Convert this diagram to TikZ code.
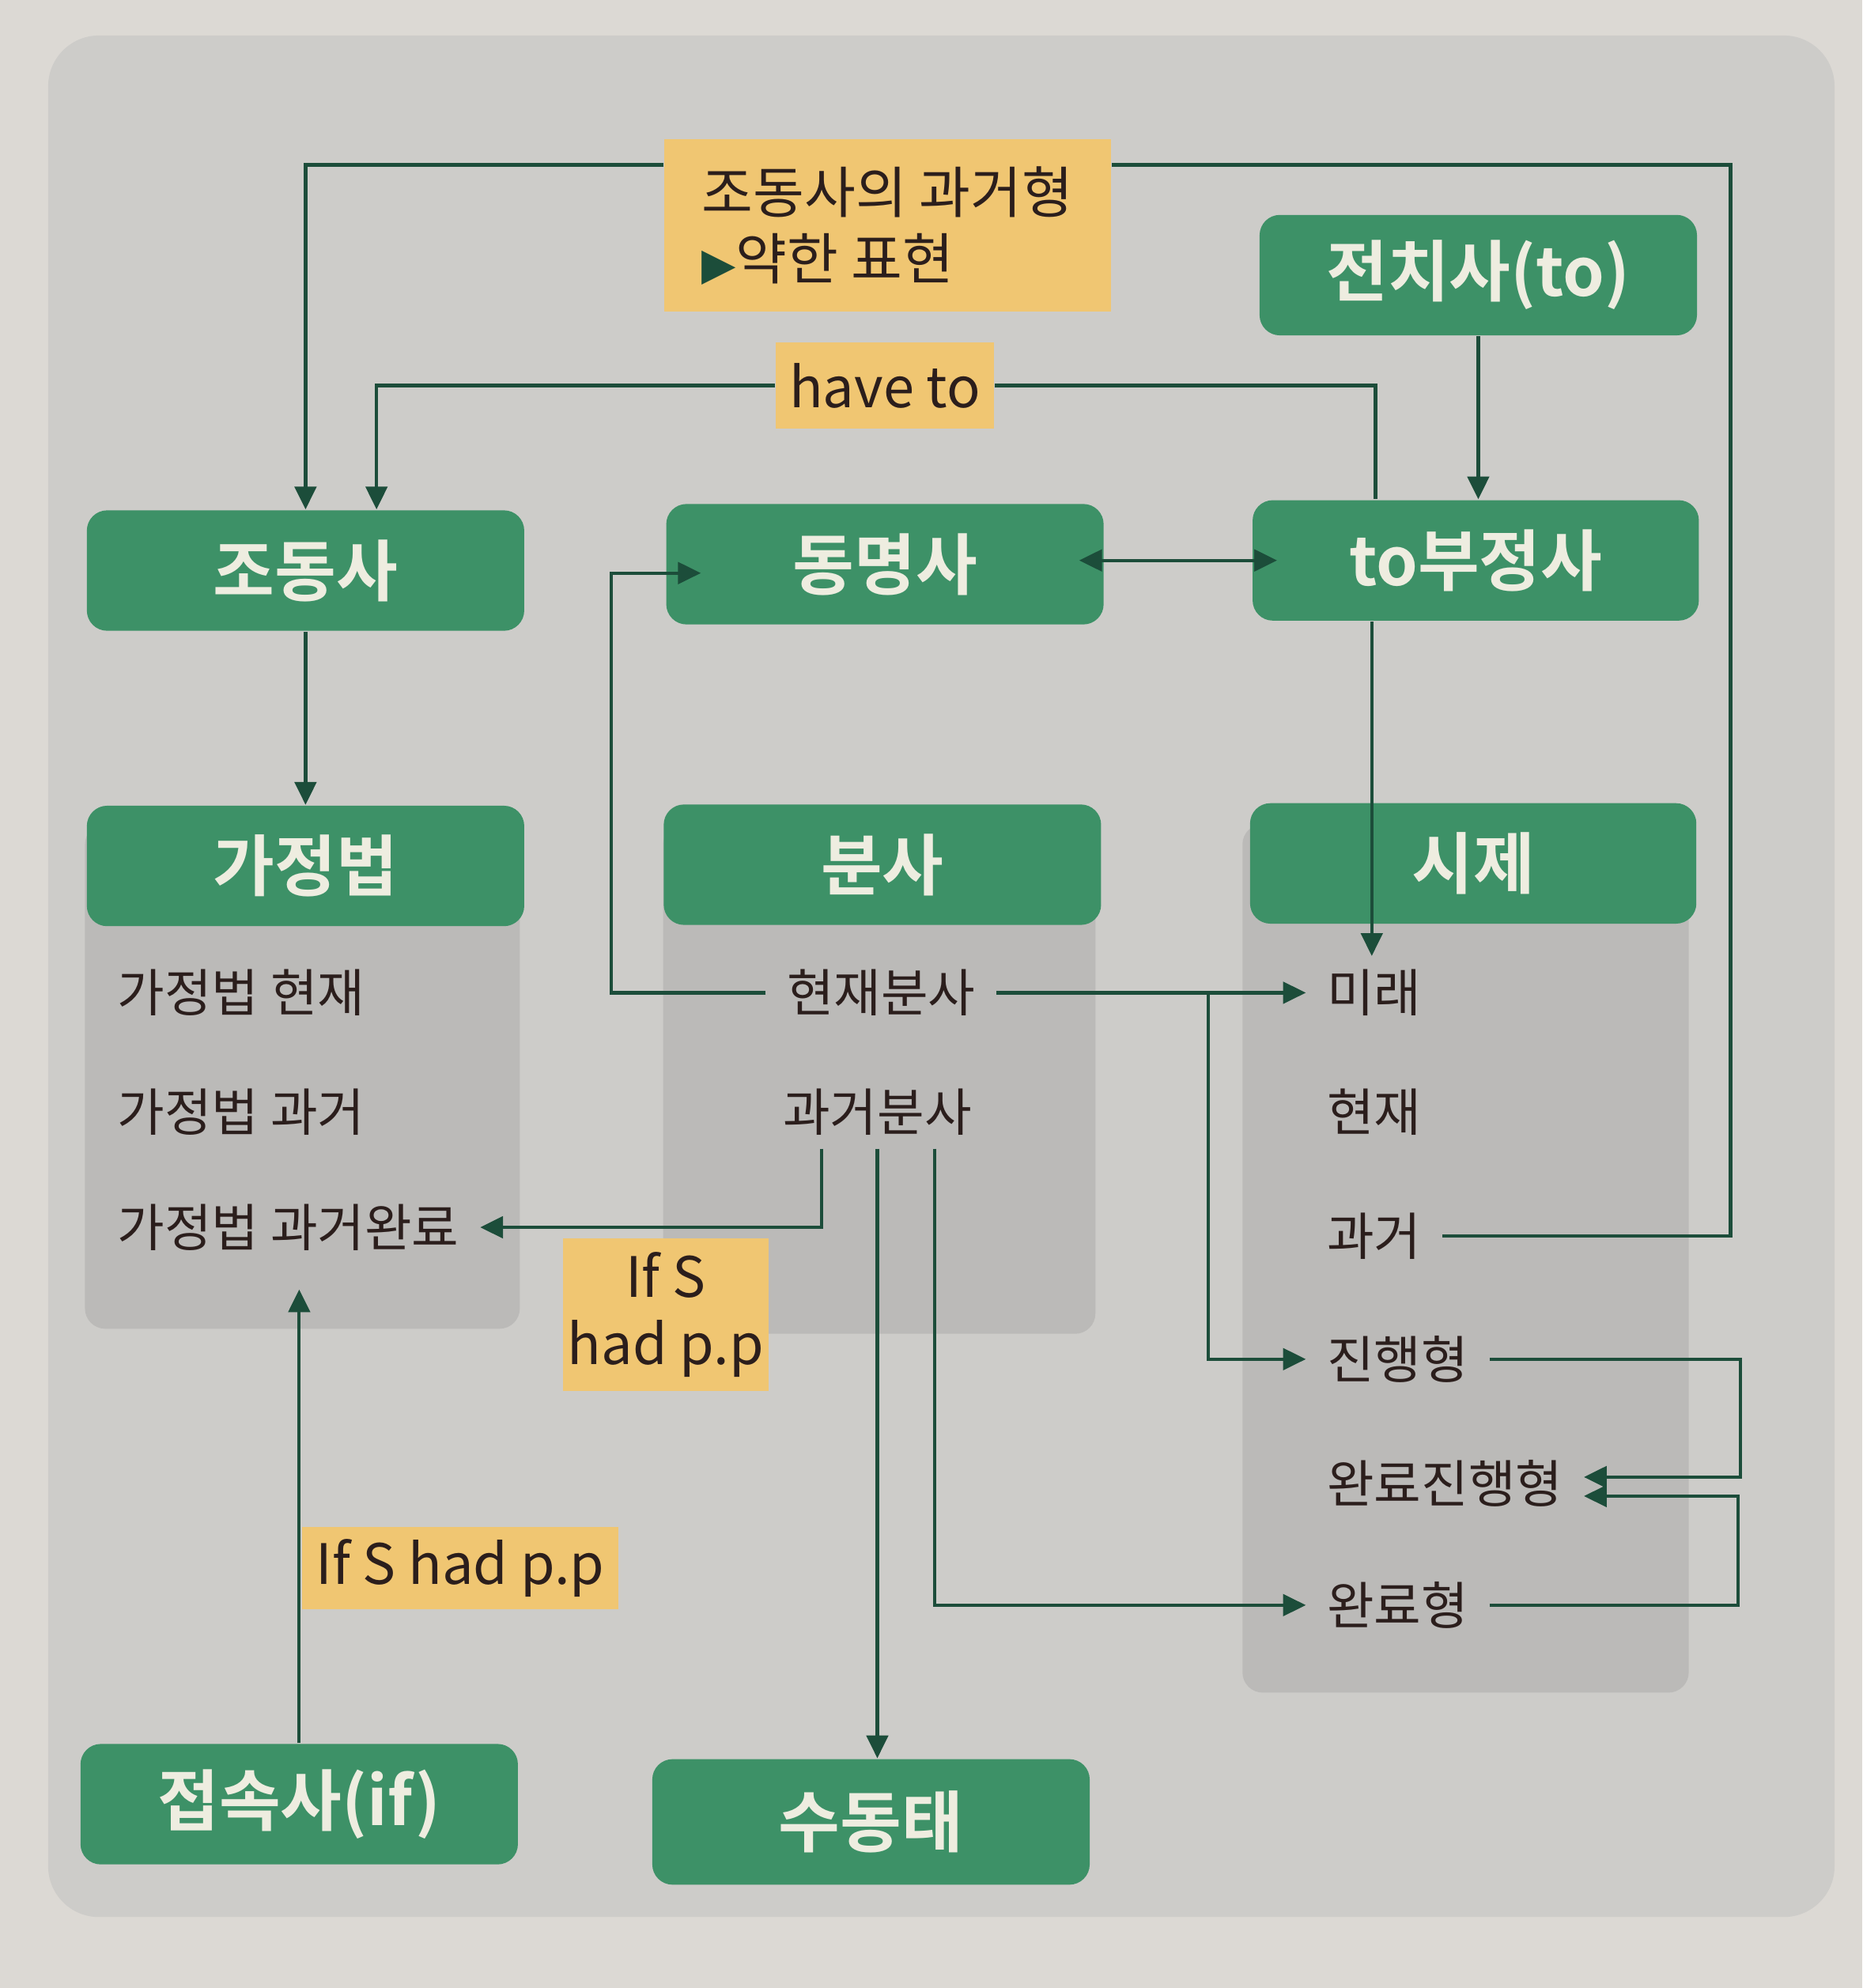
\documentclass[tikz,border=0pt]{standalone}
\usepackage{fontspec}
\setmainfont{Noto Sans CJK KR}[BoldFont={Noto Sans CJK KR Bold}]
\newfontfamily\symfont{DejaVu Sans}
\usepackage{tikz}
\usetikzlibrary{arrows.meta,calc,positioning}

\definecolor{pagegray}{HTML}{DCD9D4}
\definecolor{panelgray}{HTML}{CDCCC9}
\definecolor{bodygray}{HTML}{BBBAB8}
\definecolor{boxgreen}{HTML}{3D9167}
\definecolor{linegreen}{HTML}{1C4D3A}
\definecolor{taggold}{HTML}{F0C672}
\definecolor{inkbrown}{HTML}{2B1E1C}
\definecolor{boxtext}{HTML}{EEEDE0}

\begin{document}
\begin{tikzpicture}[x=0.1mm,y=-0.1mm,>={Triangle[length=1.8mm,width=1.7mm]},
    head/.style={rectangle,rounded corners=1.6mm,fill=boxgreen,text=boxtext,
      font=\fontsize{15}{18}\selectfont\bfseries,
      minimum width=34.5mm,minimum height=9.5mm,inner sep=0pt},
    tag/.style={fill=taggold,text=inkbrown,font=\fontsize{12.5}{15}\selectfont,inner sep=0pt},
    item/.style={text=inkbrown,font=\fontsize{11.5}{14}\selectfont,inner xsep=1.6mm,inner ysep=1mm},
    link/.style={draw=linegreen,line width=0.75pt}]

    \useasboundingbox (0,0) rectangle (1469,1568);
    \fill[pagegray] (0,0) rectangle (1469,1568);
    \fill[panelgray,rounded corners=4mm] (38,28) rectangle (1447,1512);

    % gray bodies under the three headers
    \fill[bodygray,rounded corners=1.6mm] (67,650) rectangle (410,1048);
    \fill[bodygray,rounded corners=1.6mm] (523,650) rectangle (864,1052);
    \fill[bodygray,rounded corners=1.6mm] (980,650) rectangle (1332,1335);

    \node[head] (prep)    at (1166,217) {전치사(to)};
    \node[head] (modal)   at (241,450)  {조동사};
    \node[head] (gerund)  at (698,445)  {동명사};
    \node[head,minimum width=35.2mm] (toinf) at (1164,442) {to부정사};
    \node[head] (subj)    at (241,683)  {가정법};
    \node[head] (part)    at (696,682)  {분사};
    \node[head,minimum width=35.2mm] (tense) at (1162,681) {시제};
    \node[head] (conj)    at (236,1423) {접속사(if)};
    \node[head,minimum height=9.9mm] (passive) at (687,1437) {수동태};

    \node[item,anchor=west] (subj-1) at (76,783) {가정법 현재};
    \node[item,anchor=west] (subj-2) at (76,877) {가정법 과거};
    \node[item,anchor=west] (subj-3) at (76,968) {가정법 과거완료};

    \node[item] (part-1) at (695,783) {현재분사};
    \node[item] (part-2) at (692,877) {과거분사};

    \node[item,anchor=west] (tense-1) at (1030,783)  {미래};
    \node[item,anchor=west] (tense-2) at (1030,877)  {현재};
    \node[item,anchor=west] (tense-3) at (1030,975)  {과거};
    \node[item,anchor=west] (tense-4) at (1030,1072) {진행형};
    \node[item,anchor=west] (tense-5) at (1030,1170) {완료진행형};
    \node[item,anchor=west] (tense-6) at (1030,1266) {완료형};

    \node[tag,minimum width=35.2mm,minimum height=13.6mm,align=left] (tag-1) at (700,178)
        {조동사의 과거형\\{\symfont\color{linegreen}\fontsize{10}{10}\selectfont ▶}약한 표현};
    \node[tag,minimum width=17.2mm,minimum height=6.8mm] (tag-2) at (698,304) {have to};
    \node[tag,minimum width=16.2mm,minimum height=12mm,align=center] (tag-3) at (525,1037) {If S\\had p.p};
    \node[tag,minimum width=25mm,minimum height=6.5mm] (tag-4) at (363,1237) {If S had p.p};

    \coordinate (top-right) at (1365,130);
    \coordinate (left-turn) at (482,452);
    \coordinate (fork) at (953,783);
    \coordinate (loop-a) at (1373,1165);
    \coordinate (loop-b) at (1371,1180);

    \draw[link] (tense-3.east) -| (top-right) -- (top-right -| tag-1.east);
    \draw[link,->] (tag-1.west |- top-right) -| (modal.north);

    \draw[link,->] (tag-2.west) -| ([xshift=5.6mm]modal.north);
    \draw[link] (tag-2.east) -| ([xshift=-7.9mm]toinf.north);

    \draw[link,->] (prep.south) -- (prep.south |- toinf.north);
    \draw[link,<->,shorten <=-2mm,shorten >=-2mm] (toinf.west -| gerund.east) -- (toinf.west);
    \draw[link,->] (modal) -- (subj);

    \draw[link,->,shorten >=-2.8mm] (part-1.west) -| (left-turn) -- (left-turn -| gerund.west);
    \draw[link,->] (part-1.east) -- (tense-1.west);
    \draw[link,->] (fork) |- (tense-4.west);
    \draw[link,->] ([xshift=-8.2mm]toinf.south) -- ([xshift=-8.2mm]toinf.south |- tense-1.north);

    \draw[link,->] ([xshift=-4.4mm]part-2.south) |- (subj-3.east);
    \draw[link,->] (part-2.south) -- (part-2.south |- passive.north);
    \draw[link,->] ([xshift=4.5mm]part-2.south) |- (tense-6.west);

    \draw[link,->] (tense-4.east) -| (loop-a) -- (loop-a -| tense-5.east);
    \draw[link,->] (tense-6.east) -| (loop-b) -- (loop-b -| tense-5.east);

    \draw[link,->] (conj.north) -- ([yshift=-2mm]conj.north |- subj-3.south);

\end{tikzpicture}
\end{document}
